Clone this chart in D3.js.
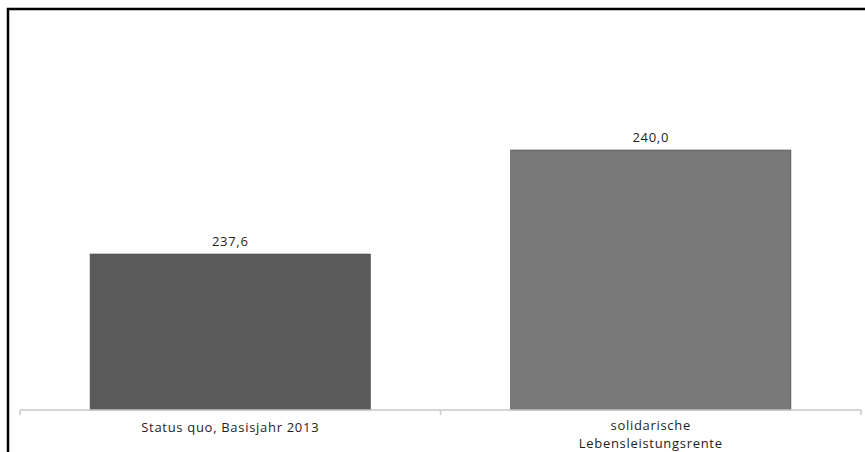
<html>
<head>
<meta charset="utf-8">
<script src="https://d3js.org/d3.v7.min.js"></script>
<style>
body { margin: 0; background: #fff; }
text { font-family: "Open Sans", sans-serif; letter-spacing: 0.7px; }
</style>
</head>
<body>
<div id="chart"></div>
<script>
var categories = ["Status quo, Basisjahr 2013", "solidarische Lebensleistungsrente"]
var labelLines = [["Status quo, Basisjahr 2013"], ["solidarische", "Lebensleistungsrente"]]
var values = [237.6, 240.0]
var colors = ["#5a5a5a", "#787878"]

var W = 865, H = 452

var svg = d3.select('#chart').append('svg')
	.attr('width', W)
	.attr('height', H)

// outer frame (only top and left visible)
svg.append('rect')
	.attr('x', 8).attr('y', 9)
	.attr('width', W + 20).attr('height', H + 20)
	.attr('fill', 'none')
	.attr('stroke', '#000')
	.attr('stroke-width', 2.5)

var x = d3.scaleBand()
	.domain(categories)
	.range([20, 861])
	.paddingInner(1/3)
	.paddingOuter(1/6)

var y = d3.scaleLinear()
	.domain([234, 243])
	.range([410, 20])

var fmt = function(v){ return d3.format('.1f')(v).replace('.', ',') }

svg.selectAll('rect.bar')
	.data(values)
	.enter().append('rect')
	.attr('class', 'bar')
	.attr('x', function(d, i){ return x(categories[i]) })
	.attr('width', x.bandwidth())
	.attr('y', function(d){ return y(d) })
	.attr('height', function(d){ return y.range()[0] - y(d) })
	.attr('fill', function(d, i){ return colors[i] })
	.attr('stroke', '#4a4a4a')
	.attr('stroke-width', 0.6)

svg.selectAll('text.val')
	.data(values)
	.enter().append('text')
	.attr('class', 'val')
	.attr('x', function(d, i){ return x(categories[i]) + x.bandwidth()/2 })
	.attr('y', function(d){ return y(d) - 8 })
	.attr('text-anchor', 'middle')
	.attr('font-size', '13px')
	.attr('fill', '#1e1e1e')
	.text(fmt)

// category axis
var axisY = y.range()[0]
svg.append('line')
	.attr('x1', 20).attr('x2', 861)
	.attr('y1', axisY).attr('y2', axisY)
	.attr('stroke', '#c8c8c8')
	.attr('stroke-width', 1.5)

var tickX = [20].concat(categories.map(function(c){ return x(c) + x.bandwidth() + x.step()*x.paddingInner()/2 }))
tickX[tickX.length - 1] = 861
svg.selectAll('line.tick')
	.data(tickX)
	.enter().append('line')
	.attr('class', 'tick')
	.attr('x1', function(d){ return d }).attr('x2', function(d){ return d })
	.attr('y1', axisY).attr('y2', axisY + 5)
	.attr('stroke', '#c8c8c8')
	.attr('stroke-width', 1.5)

var cat = svg.selectAll('text.cat')
	.data(labelLines)
	.enter().append('text')
	.attr('class', 'cat')
	.attr('text-anchor', 'middle')
	.attr('font-size', '13px')
	.attr('fill', '#1e1e1e')

cat.selectAll('tspan')
	.data(function(d, i){ return d.map(function(s){ return {s: s, i: i, n: d.length} }) })
	.enter().append('tspan')
	.attr('x', function(d){ return x(categories[d.i]) + x.bandwidth()/2 })
	.attr('y', function(d, j){ return d.n > 1 ? 430 + j*18 : 432 })
	.text(function(d){ return d.s })
</script>
</body>
</html>
